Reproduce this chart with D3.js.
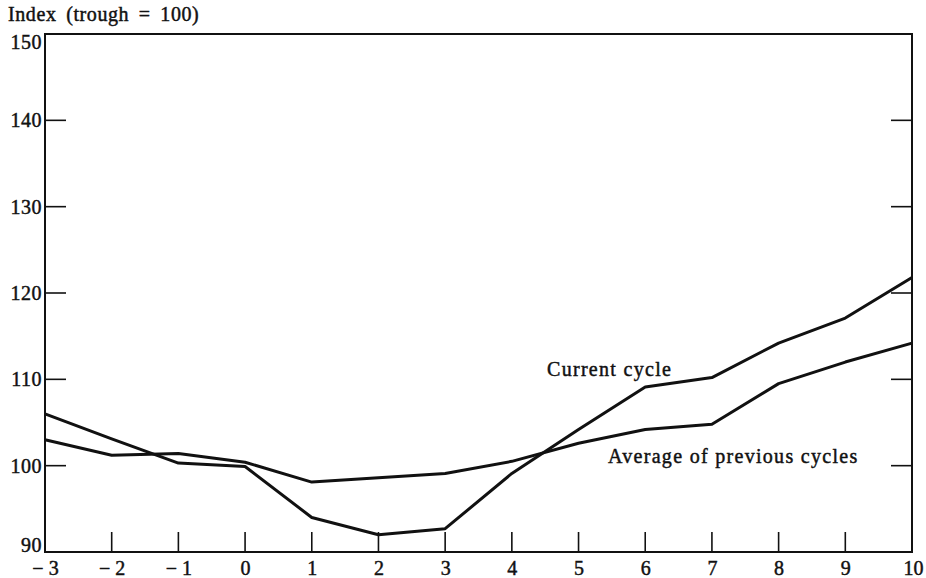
<!DOCTYPE html>
<html>
<head>
<meta charset="utf-8">
<script src="https://cdn.jsdelivr.net/npm/d3@7"></script>
<style>
  body { margin: 0; background: #fff; }
  svg text { font-family: "Liberation Serif", "DejaVu Serif", serif; fill: #111; stroke: #111; stroke-width: 0.45px; }
</style>
</head>
<body>
<svg id="chart" width="926" height="578"></svg>
<script>
// Data
var quarters = [-3, -2, -1, 0, 1, 2, 3, 4, 5, 6, 7, 8, 9, 10];
var currentCycle = [106, 103.1, 100.3, 99.9, 94, 92, 92.7, 99.1, 104.2, 109.1, 110.2, 114.2, 117.1, 121.8];
var averagePrevious = [103, 101.2, 101.4, 100.4, 98.1, 98.6, 99.1, 100.5, 102.6, 104.2, 104.8, 109.5, 112, 114.2];
var yTicks = [90, 100, 110, 120, 130, 140, 150];

var svg = d3.select("#chart");
var margin = { left: 45, right: 14, top: 34, bottom: 26 };
var w = 926, h = 578;

var x = d3.scaleLinear().domain([-3, 10]).range([margin.left, w - margin.right]);
var y = d3.scaleLinear().domain([90, 150]).range([h - margin.bottom, margin.top]);

var ink = "#111";

// Frame
svg.append("rect")
   .attr("x", x(-3)).attr("y", y(150))
   .attr("width", x(10) - x(-3)).attr("height", y(90) - y(150))
   .style("fill", "none").style("stroke", ink).style("stroke-width", 2);

// Bottom axis labels (ticks drawn separately, pointing up)
var xAxis = d3.axisBottom(x).tickValues(quarters).tickSize(0).tickPadding(9)
              .tickFormat(function(d) { return d < 0 ? "\u2212 " + Math.abs(d) : d; });
var gx = svg.append("g").attr("transform", "translate(0," + y(90) + ")").call(xAxis);
gx.select(".domain").remove();
gx.selectAll("text").style("font-size", "20px").style("font-family", "Liberation Serif")
  .style("fill", ink).attr("dy", "0.7em");
gx.selectAll(".tick").filter(function(d) { return d === 10; }).select("text").attr("dx", 1);

svg.selectAll(".xtick")
   .data(quarters.filter(function(d) { return d > -3 && d < 10; }))
   .enter().append("line")
   .attr("class", "xtick")
   .attr("x1", function(d) { return x(d); }).attr("x2", function(d) { return x(d); })
   .attr("y1", y(90)).attr("y2", y(90) - 20)
   .style("stroke", ink).style("stroke-width", 1.6);

// Left axis: labels + inward ticks
var yAxis = d3.axisLeft(y).tickValues(yTicks).tickSize(0).tickPadding(3);
var gy = svg.append("g").attr("transform", "translate(" + x(-3) + ",0)").call(yAxis);
gy.select(".domain").remove();
gy.selectAll("text").style("font-size", "20px").style("font-family", "Liberation Serif")
  .style("fill", ink).style("letter-spacing", "0.5px")
  .attr("dy", function(d) {
    // end labels are nudged inside the frame, as in the print
    if (d == 150) { return "0.72em"; }
    else if (d == 90) { return "-0.05em"; }
    else { return "0.32em"; }
  });

var innerTicks = yTicks.filter(function(d) { return d > 90 && d < 150; });
svg.selectAll(".ytickL")
   .data(innerTicks).enter().append("line")
   .attr("class", "ytickL")
   .attr("x1", x(-3)).attr("x2", x(-3) + 21)
   .attr("y1", function(d) { return y(d); }).attr("y2", function(d) { return y(d); })
   .style("stroke", ink).style("stroke-width", 1.6);

svg.selectAll(".ytickR")
   .data(innerTicks).enter().append("line")
   .attr("class", "ytickR")
   .attr("x1", x(10)).attr("x2", x(10) - 21)
   .attr("y1", function(d) { return y(d); }).attr("y2", function(d) { return y(d); })
   .style("stroke", ink).style("stroke-width", 1.6);

// Lines
var line = d3.line().x(function(d, i) { return x(quarters[i]); }).y(function(d) { return y(d); });

svg.append("path").datum(averagePrevious)
   .attr("d", line)
   .style("fill", "none").style("stroke", ink).style("stroke-width", 3)
   .style("stroke-linejoin", "round");

svg.append("path").datum(currentCycle)
   .attr("d", line)
   .style("fill", "none").style("stroke", ink).style("stroke-width", 3)
   .style("stroke-linejoin", "round");

// Labels
svg.append("text").attr("x", 8).attr("y", 21)
   .style("font-size", "20px").style("letter-spacing", "0.6px").style("word-spacing", "4px")
   .text("Index (trough = 100)");

svg.append("text").attr("x", 547).attr("y", 376)
   .style("font-size", "20px").style("letter-spacing", "1.3px").text("Current cycle");

svg.append("text").attr("x", 608).attr("y", 463)
   .style("font-size", "20px").style("letter-spacing", "1.3px").text("Average of previous cycles");
</script>
</body>
</html>
